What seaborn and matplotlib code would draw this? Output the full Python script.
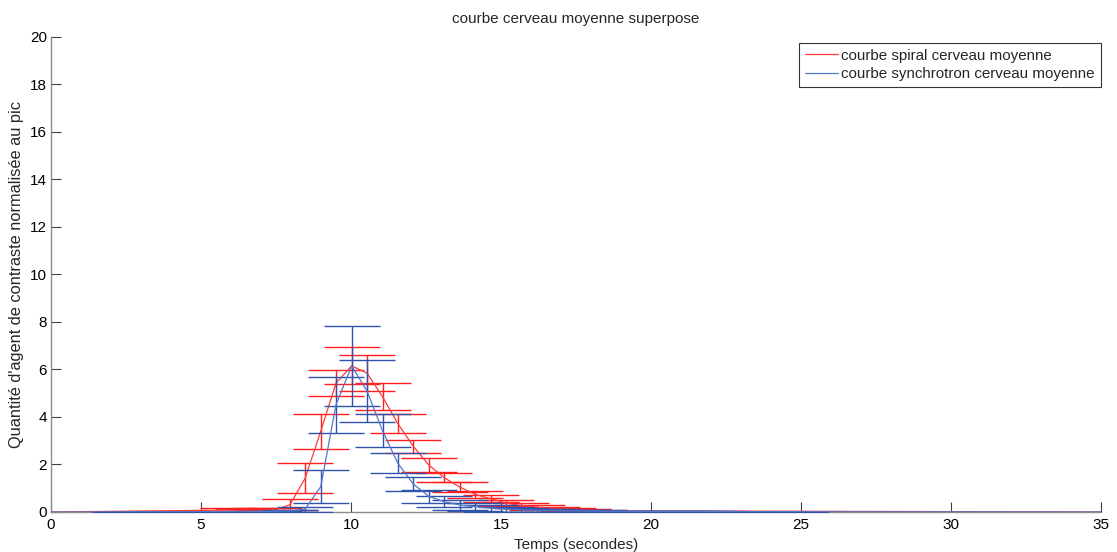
import matplotlib
matplotlib.use("Agg")
import matplotlib.pyplot as plt
import seaborn as sns
import pandas as pd

# ---------------- data ----------------
spiral_time = [5.90, 6.41, 6.93, 7.44, 7.96, 8.47, 8.99, 9.50, 10.02, 10.53,
               11.05, 11.56, 12.08, 12.59, 13.11, 13.62, 14.14, 14.65, 15.17,
               15.68, 16.20, 16.71, 17.23, 17.74, 18.26]
spiral_mean = [0.08, 0.06, 0.07, 0.08, 0.30, 1.42, 3.40, 5.43, 6.15, 5.85,
               4.85, 3.72, 2.76, 1.98, 1.44, 1.05, 0.74, 0.56, 0.38,
               0.26, 0.20, 0.15, 0.11, 0.08, 0.05]
spiral_err = [0.09, 0.06, 0.08, 0.10, 0.23, 0.63, 0.74, 0.55, 0.78, 0.75,
              0.57, 0.40, 0.28, 0.28, 0.19, 0.20, 0.16, 0.14, 0.12,
              0.10, 0.10, 0.08, 0.07, 0.06, 0.05]

synchro_time = [2.29, 2.81, 3.32, 3.84, 4.35, 4.87, 5.38, 5.90, 6.41, 6.93,
                7.44, 7.96, 8.47, 8.99, 9.50, 10.02, 10.53, 11.05, 11.56,
                12.08, 12.59, 13.11, 13.62, 14.14, 14.65, 15.17, 15.68, 16.20,
                16.71, 17.23, 17.74, 18.26, 18.77, 19.29, 19.80, 20.32, 20.83,
                21.35, 21.86, 22.38, 22.89, 23.41, 23.92, 24.44, 24.95]
synchro_mean = [0.00, 0.00, 0.00, 0.00, 0.00, 0.00, 0.01, 0.01, 0.01, 0.02,
                0.03, 0.04, 0.12, 1.07, 4.52, 6.15, 5.10, 3.42, 2.05,
                1.17, 0.66, 0.43, 0.30, 0.22, 0.16, 0.12, 0.09, 0.07,
                0.06, 0.05, 0.04, 0.04, 0.03, 0.03, 0.03, 0.02, 0.02,
                0.02, 0.02, 0.02, 0.01, 0.01, 0.01, 0.01, 0.01]
synchro_err = [0.00, 0.00, 0.00, 0.00, 0.00, 0.01, 0.01, 0.01, 0.01, 0.02,
               0.02, 0.03, 0.10, 0.70, 1.18, 1.70, 1.30, 0.70, 0.42,
               0.30, 0.27, 0.23, 0.20, 0.17, 0.14, 0.11, 0.09, 0.07,
               0.06, 0.05, 0.04, 0.03, 0.03, 0.02, 0.02, 0.02, 0.02,
               0.01, 0.01, 0.01, 0.01, 0.01, 0.01, 0.01, 0.01]

# curves extend over the whole time axis (zero outside the sampled window)
axis_start = 0.0
axis_end = 35.0

labels = ["courbe spiral cerveau moyenne", "courbe synchrotron cerveau moyenne"]
title = "courbe cerveau moyenne superpose"
xlabel = "Temps (secondes)"
ylabel = "Quantité d'agent de contraste normalisée au pic"
xticks = [0, 5, 10, 15, 20, 25, 30, 35]
yticks = [0, 2, 4, 6, 8, 10, 12, 14, 16, 18, 20]

# ---------------- style ----------------
sns.set_style("white")
plt.rcParams["font.family"] = ["Liberation Sans", "DejaVu Sans"]

RED_BAR = "#ff1f1f"
RED_LINE = "#ff3a3a"
BLUE_BAR = "#2f52aa"
BLUE_LINE = "#5676c8"

fig = plt.figure(figsize=(11.17, 5.52), dpi=100)
ax = fig.add_axes([0.0457, 0.0725, 0.9400, 0.8605])

# spiral series
ax.errorbar(spiral_time, spiral_mean, yerr=spiral_err, fmt="none",
            ecolor=RED_BAR, elinewidth=1.0, capsize=20.5, capthick=1.0, zorder=2)
sp_df = pd.DataFrame({"t": [axis_start] + spiral_time + [axis_end],
                      "v": [0.0] + spiral_mean + [0.0]})
sns.lineplot(data=sp_df, x="t", y="v", color=RED_LINE, lw=0.9, ax=ax,
             label=labels[0], zorder=3)

# synchrotron series
ax.errorbar(synchro_time, synchro_mean, yerr=synchro_err, fmt="none",
            ecolor=BLUE_BAR, elinewidth=1.0, capsize=20.5, capthick=1.0, zorder=4)
sy_df = pd.DataFrame({"t": [axis_start] + synchro_time + [axis_end],
                      "v": [0.0] + synchro_mean + [0.0]})
sns.lineplot(data=sy_df, x="t", y="v", color=BLUE_LINE, lw=0.9, ax=ax,
             label=labels[1], zorder=5)

ax.set_xlim(0, 35)
ax.set_ylim(0, 20)
ax.set_xticks(xticks)
ax.set_yticks(yticks)
ax.set_xticklabels([str(v) for v in xticks])
ax.set_yticklabels([str(v) for v in yticks])

for s in ["top", "right"]:
    ax.spines[s].set_visible(False)
for s in ["left", "bottom"]:
    ax.spines[s].set_color("#8a8a8a")
    ax.spines[s].set_linewidth(1.0)

ax.tick_params(axis="both", direction="in", length=7, width=0.8,
               color="#404040", labelsize=11, labelcolor="black",
               bottom=True, left=True, top=False, right=False)
ax.tick_params(axis="x", pad=4)
ax.tick_params(axis="y", pad=3)

ax.set_title(title, fontsize=11, pad=10)
ax.set_xlabel(xlabel, fontsize=11, labelpad=5)
ax.set_ylabel(ylabel, fontsize=11.8, labelpad=4)

leg = ax.legend(loc="upper right", bbox_to_anchor=(1.0, 0.988), fontsize=10.9,
                frameon=True, fancybox=False, handlelength=2.2,
                handletextpad=0.2, borderpad=0.4, labelspacing=0.3,
                borderaxespad=0.0)
leg.get_frame().set_edgecolor("black")
leg.get_frame().set_linewidth(0.8)

fig.savefig("out.png", dpi=100)
